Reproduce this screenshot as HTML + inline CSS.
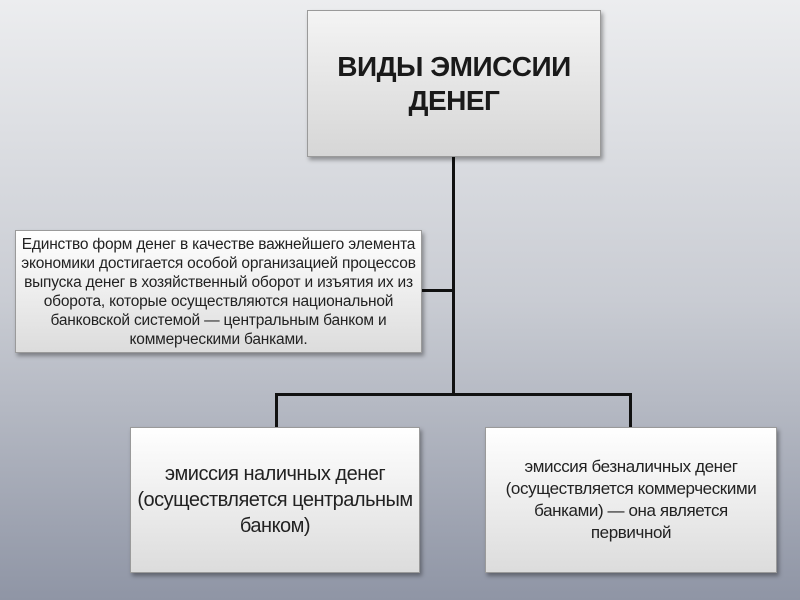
<!DOCTYPE html>
<html><head><meta charset="utf-8"><style>
body{margin:0;width:800px;height:600px;overflow:hidden;background:linear-gradient(#ecedef 0%,#c9ccd3 50%,#8f95a5 100%);font-family:"Liberation Sans","DejaVu Sans",sans-serif;position:relative}
.b{position:absolute;box-sizing:border-box;background:linear-gradient(#ffffff,#dcdcdc);border:1px solid #9a9a9a;box-shadow:2px 3px 4px rgba(0,0,0,.35);display:flex;align-items:center;justify-content:center;text-align:center;color:#222;white-space:nowrap}
.l{position:absolute;background:#111}
</style></head><body>
<div class="l" style="left:452px;top:157px;width:3px;height:238px"></div>
<div class="l" style="left:422px;top:289px;width:32px;height:3px"></div>
<div class="l" style="left:275px;top:393px;width:357px;height:3px"></div>
<div class="l" style="left:275px;top:393px;width:3px;height:34px"></div>
<div class="l" style="left:629px;top:393px;width:3px;height:34px"></div>
<div class="b" style="left:307px;top:10px;width:294px;height:147px;font-weight:bold;font-size:28px;line-height:34px;color:#1a1a1a;background:linear-gradient(#f4f4f4,#d6d6d6);letter-spacing:-0.5px">ВИДЫ ЭМИССИИ<br>ДЕНЕГ</div>
<div class="b" style="left:15px;top:230px;width:407px;height:123px;font-size:15.5px;line-height:19px;letter-spacing:-0.2px">Единство форм денег в качестве важнейшего элемента<br>экономики достигается особой организацией процессов<br>выпуска денег в хозяйственный оборот и изъятия их из<br>оборота, которые осуществляются национальной<br>банковской системой — центральным банком и<br>коммерческими банками.</div>
<div class="b" style="left:130px;top:427px;width:290px;height:146px;font-size:20px;line-height:26px;letter-spacing:-0.5px">эмиссия наличных денег<br>(осуществляется центральным<br>банком)</div>
<div class="b" style="left:485px;top:427px;width:292px;height:146px;font-size:17px;line-height:22px;letter-spacing:-0.4px">эмиссия безналичных денег<br>(осуществляется коммерческими<br>банками) — она является<br>первичной</div>
</body></html>
